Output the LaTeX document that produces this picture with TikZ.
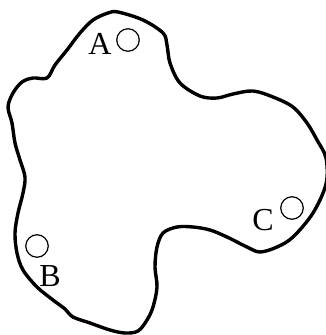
\documentclass[tikz,border=0pt]{standalone}
\usepackage{fontspec}
\setmainfont{Liberation Serif}
\usetikzlibrary{positioning}

\begin{document}
\begin{tikzpicture}[x=1pt,y=-1pt,
  hole/.style={draw,circle,line width=1.2pt,minimum size=22.5pt,inner sep=0pt},
  lab/.style={font=\fontsize{32}{32}\selectfont,inner sep=0pt}]
\useasboundingbox (0,0) rectangle (326,335);
\clip (0,0) rectangle (326,335);
% outline of the plate
\draw[line width=3.4pt,line join=round] plot[smooth cycle,tension=0.55] coordinates {
  (118,12) (143,20) (163,33) (167,45) (170,63) (180,83) (200,96) (217,98)
  (233,94) (253,91) (273,97) (293,107) (307,123) (317,140) (326,158) (326,184)
  (313,213) (293,237) (277,247) (260,252) (247,247) (227,237) (210,230)
  (193,227) (177,227) (163,233) (157,247) (155,267) (157,287) (153,307)
  (147,320) (138,331) (125,333) (110,330) (90,323) (73,317) (65,309) (53,300)
  (37,287) (23,270) (17,253) (15,233) (18,213) (23,193) (25,177) (20,160)
  (15,143) (12,123) (8,107) (13,93) (22,82) (33,78) (47,78) (55,65) (67,50)
  (80,33) (93,20) (108,13)};
% holes and labels
\node[hole] (holeA) at (128,40) {};
\node[lab] (A) at (100,44) {A};
\node[hole] (holeB) at (37,246) {};
\node[lab] (B) at (50,276) {B};
\node[hole] (holeC) at (292,208) {};
\node[lab] (C) at (263,220) {C};
\end{tikzpicture}
\end{document}
